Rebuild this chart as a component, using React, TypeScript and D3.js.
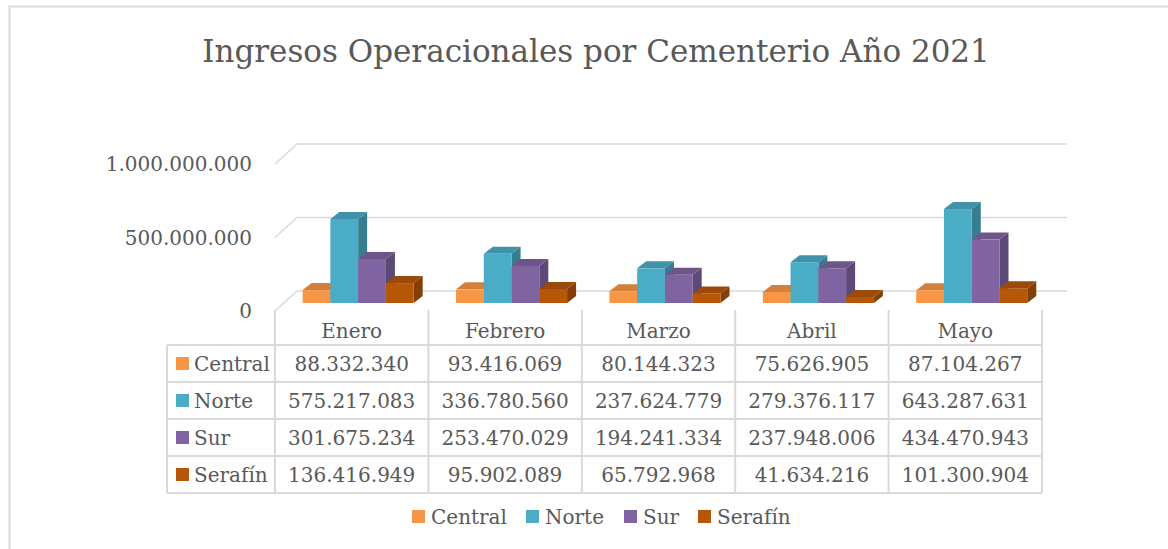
import React from "react";
import * as d3 from "d3";

// datos del gráfico
const months = ["Enero", "Febrero", "Marzo", "Abril", "Mayo"];
const seriesNames = ["Central", "Norte", "Sur", "Serafín"];
const central = [88332340, 93416069, 80144323, 75626905, 87104267];
const norte = [575217083, 336780560, 237624779, 279376117, 643287631];
const sur = [301675234, 253470029, 194241334, 237948006, 434470943];
const serafin = [136416949, 95902089, 65792968, 41634216, 101300904];
const yTicks = [0, 500000000, 1000000000];

const seriesValues = [central, norte, sur, serafin];
const colors = ["#F79646", "#4BACC6", "#8064A2", "#B65708"];

const W = 1168;
const H = 549;
const FONT = "'DejaVu Serif', serif";
const TXT = "#595959";
const GRID = "#d9d9d9";

// formato con puntos como separador de miles
const fmt = (v: number) => d3.format(",")(v).replace(/,/g, ".");

const App: React.FC = () => {
  // plano frontal del piso / paredes
  const x = d3.scaleBand<string>().domain(months).range([275, 1042]);
  const yFront = d3.scaleLinear().domain([0, 1000000000]).range([311, 164]);
  const depth = { dx: 22, dy: -20 };
  // plano de las barras
  const yBar = d3.scaleLinear().domain([0, 1000000000]).range([303, 157]);
  const bw = x.bandwidth() * 0.181;
  const barOff = x.bandwidth() * 0.18;
  const bd = { dx: 9, dy: -7 };
  const gridRight = 1067;

  const tableLeft = 167;
  const headerTop = 310;
  const rowTop = 345;
  const rowH = 37;

  const top = (c: string) => d3.color(c)!.darker(0.45).formatHex();
  const side = (c: string) => d3.color(c)!.darker(0.9).formatHex();

  return (
    <svg
      width={W}
      height={H}
      style={{ position: "absolute", left: 0, top: 0, background: "#fff" }}
    >
      {/* marco */}
      <path d={`M9.5,${H}V6.5H${W}`} fill="none" stroke={GRID} strokeWidth={2} />

      {/* título */}
      <text
        x={596}
        y={62}
        textAnchor="middle"
        fontFamily={FONT}
        fontSize={31}
        fill={TXT}
      >
        Ingresos Operacionales por Cementerio Año 2021
      </text>

      {/* líneas de cuadrícula */}
      {yTicks.map((t) => (
        <g key={t}>
          <path
            d={`M275,${yFront(t)}L${275 + depth.dx},${yFront(t) + depth.dy}H${gridRight}`}
            fill="none"
            stroke={GRID}
            strokeWidth={1.5}
          />
          <text
            x={252}
            y={yFront(t)}
            dy="0.35em"
            textAnchor="end"
            fontFamily={FONT}
            fontSize={20}
            fill={TXT}
          >
            {fmt(t)}
          </text>
        </g>
      ))}

      {/* barras 3D */}
      {months.map((m, i) => (
        <g key={m}>
          {seriesValues.map((vals, s) => {
            const x0 = (x(m) ?? 0) + barOff + s * bw;
            const yt = yBar(vals[i]);
            const yb = yBar(0);
            const c = colors[s];
            return (
              <g key={s}>
                <polygon
                  points={`${x0 + bw},${yt} ${x0 + bw + bd.dx},${yt + bd.dy} ${x0 + bw + bd.dx},${yb + bd.dy} ${x0 + bw},${yb}`}
                  fill={side(c)}
                />
                <polygon
                  points={`${x0},${yt} ${x0 + bd.dx},${yt + bd.dy} ${x0 + bw + bd.dx},${yt + bd.dy} ${x0 + bw},${yt}`}
                  fill={top(c)}
                />
                <rect x={x0} y={yt} width={bw} height={yb - yt} fill={c} />
              </g>
            );
          })}
        </g>
      ))}

      {/* tabla de datos */}
      <g fontFamily={FONT} fontSize={20} fill={TXT}>
        {months.map((m) => (
          <text
            key={m}
            x={(x(m) ?? 0) + x.bandwidth() / 2}
            y={(headerTop + rowTop) / 2 + 3}
            dy="0.35em"
            textAnchor="middle"
          >
            {m}
          </text>
        ))}
        {seriesNames.map((n, s) => {
          const yc = rowTop + rowH * s + rowH / 2;
          return (
            <g key={n}>
              <rect x={176} y={yc - 6.5} width={13} height={13} fill={colors[s]} />
              <text x={194} y={yc} dy="0.35em">
                {n}
              </text>
              {months.map((m, i) => (
                <text
                  key={m}
                  x={(x(m) ?? 0) + x.bandwidth() / 2}
                  y={yc}
                  dy="0.35em"
                  textAnchor="middle"
                >
                  {fmt(seriesValues[s][i])}
                </text>
              ))}
            </g>
          );
        })}
      </g>
      <g stroke={GRID} strokeWidth={2} fill="none">
        {[...months.map((m) => x(m) ?? 0), x.range()[1]].map((xv, k) => (
          <line key={k} x1={xv} x2={xv} y1={headerTop} y2={rowTop + rowH * 4} />
        ))}
        <line x1={tableLeft} x2={tableLeft} y1={rowTop} y2={rowTop + rowH * 4} />
        {d3.range(5).map((r) => (
          <line
            key={r}
            x1={tableLeft}
            x2={x.range()[1]}
            y1={rowTop + rowH * r}
            y2={rowTop + rowH * r}
          />
        ))}
      </g>

      {/* leyenda */}
      <g fontFamily={FONT} fontSize={20} fill={TXT}>
        {seriesNames.map((n, s) => {
          const lx = [412, 526, 624, 698][s];
          return (
            <g key={n}>
              <rect x={lx} y={510} width={13} height={13} fill={colors[s]} />
              <text x={lx + 19} y={517} dy="0.35em">
                {n}
              </text>
            </g>
          );
        })}
      </g>
    </svg>
  );
};

export default App;
